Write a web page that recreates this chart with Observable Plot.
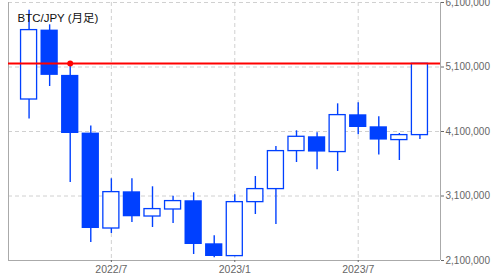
<!DOCTYPE html>
<html>
<head>
<meta charset="utf-8">
<script src="https://cdn.jsdelivr.net/npm/d3@7"></script>
<script src="https://cdn.jsdelivr.net/npm/@observablehq/plot@0.6"></script>
<style>
  html, body { margin: 0; padding: 0; background: #fff; }
  #chart { width: 496px; height: 279px; }
</style>
</head>
<body>
<div id="chart"></div>
<script>
const title = "BTC/JPY (月足)";
const months = ["2022/3","2022/4","2022/5","2022/6","2022/7","2022/8","2022/9","2022/10","2022/11","2022/12",
                "2023/1","2023/2","2023/3","2023/4","2023/5","2023/6","2023/7","2023/8","2023/9","2023/10"];
const open  = [4596000,5672000,4970000,4075000,2596000,3165000,2782000,2891000,3026000,2359000,
               2168000,3005000,3207000,3796000,4018000,3781000,4359000,4173000,3967000,4044000];
const high  = [5979000,5754000,5155000,4184000,3367000,3367000,3243000,3098000,3150000,2483000,
               3119000,3402000,3867000,4111000,4080000,4529000,4545000,4328000,4069000,5150000];
const low   = [4292000,4798000,3309000,2379000,2519000,2689000,2612000,2674000,2193000,2142000,
               2160000,2813000,2658000,3619000,3506000,3480000,4050000,3734000,3650000,3976000];
const close = [5672000,4970000,4069000,2596000,3160000,2778000,2897000,3021000,2348000,2162000,
               3005000,3207000,3796000,4018000,3781000,4354000,4162000,3967000,4044000,5150000];
const yTicks = [2100000,3100000,4100000,5100000,6100000];
const xTickLabels = ["2022/7","2023/1","2023/7"];
const refLevel = [5155000];
const refMonth = "2022/5";

const blue = "#0040ff";
const data = months.map((m, i) => ({i, m, open: open[i], high: high[i], low: low[i], close: close[i]}));
const up = data.filter(d => d.close >= d.open);
const down = data.filter(d => d.close < d.open);
const xTickIdx = xTickLabels.map(l => months.indexOf(l));
const refPoint = [{i: months.indexOf(refMonth), v: refLevel[0]}];
const font = "'Liberation Sans', Arial, 'Noto Sans CJK JP', sans-serif";

const chart = Plot.plot({
  width: 496,
  height: 279,
  marginLeft: 8,
  marginRight: 56,
  marginTop: 2,
  marginBottom: 19,
  style: {fontFamily: font, fontSize: "10px", color: "#666", background: "#fff"},
  x: {type: "linear", domain: [-1, months.length], axis: null},
  y: {domain: [2100000, 6100000], axis: null, label: null},
  marks: [
    Plot.ruleY(yTicks, {stroke: "#d0d0d0", strokeDasharray: "4,3"}),
    Plot.ruleX(xTickIdx, {stroke: "#d0d0d0", strokeDasharray: "4,3"}),
    Plot.ruleX([-1], {stroke: "#aaa"}),
    Plot.ruleX([months.length], {stroke: "#aaa"}),
    Plot.ruleY([2100000], {stroke: "#aaa"}),
    Plot.ruleX(data, {x: "i", y1: "low", y2: "high", stroke: blue, strokeWidth: 1.4}),
    Plot.rect(up, {x1: d => d.i - 0.39, x2: d => d.i + 0.39, y1: "open", y2: "close", fill: "#fff", stroke: blue, strokeWidth: 1.3}),
    Plot.rect(down, {x1: d => d.i - 0.42, x2: d => d.i + 0.42, y1: "open", y2: "close", fill: blue}),
    Plot.ruleY(refLevel, {stroke: "#ff0000", strokeWidth: 2}),
    Plot.dot(refPoint, {x: "i", y: "v", r: 3, fill: "#ff0000", stroke: null}),
    Plot.axisY({anchor: "right", ticks: yTicks, tickFormat: d3.format(","), tickSize: 3, tickPadding: 2, fontSize: 10, color: "#666", label: null}),
    Plot.axisX({ticks: xTickIdx, tickFormat: i => months[i], tickSize: 2, tickPadding: 3, fontSize: 10.5, color: "#666", label: null}),
    Plot.text([title], {frameAnchor: "top-left", dx: 9, dy: 16, textAnchor: "start", lineAnchor: "middle", fill: "#111", fontSize: 11.5, letterSpacing: "0.3px"})
  ]
});
document.getElementById("chart").appendChild(chart);
</script>
</body>
</html>
